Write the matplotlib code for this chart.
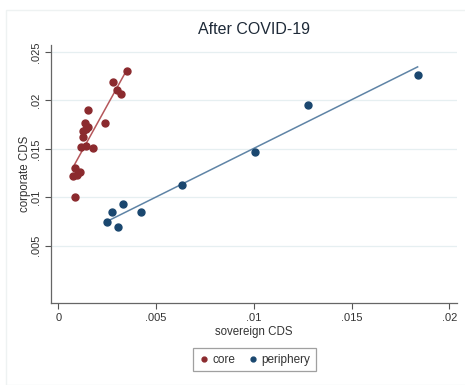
import numpy as np
import matplotlib.pyplot as plt
from matplotlib.patches import Rectangle

plt.rcParams['font.family'] = ['Liberation Sans', 'DejaVu Sans']

# core countries
core_x = [0.00353, 0.00278, 0.00302, 0.00320, 0.00152, 0.00238, 0.00136, 0.00154,
          0.00126, 0.00141, 0.00128, 0.00117, 0.00140, 0.00179, 0.00083, 0.00073,
          0.00094, 0.00111, 0.00087]
core_y = [0.0230, 0.02186, 0.02104, 0.02064, 0.01904, 0.01767, 0.0177, 0.01726,
          0.0168, 0.0170, 0.0162, 0.01522, 0.01534, 0.01512, 0.01302, 0.01223,
          0.01233, 0.01259, 0.00999]

# periphery countries
peri_x = [0.00635, 0.01008, 0.01277, 0.01838, 0.00250, 0.00276, 0.00329, 0.00305, 0.00424]
peri_y = [0.0113, 0.01469, 0.01956, 0.02262, 0.00747, 0.00845, 0.00927, 0.0069, 0.00851]

xticks = [0, 0.005, 0.01, 0.015, 0.02]
xlabels = ['0', '.005', '.01', '.015', '.02']
yticks = [0.005, 0.01, 0.015, 0.02, 0.025]
ylabels = ['.005', '.01', '.015', '.02', '.025']

red = '#8b2a2e'
navy = '#1a476f'

fig = plt.figure(figsize=(4.65, 3.85), dpi=100)
fig.patches.append(Rectangle((0.012, 0.0), 0.99, 0.975, transform=fig.transFigure,
                             fill=False, edgecolor='#eef2f2', lw=1))
ax = fig.add_axes([0.110, 0.213, 0.873, 0.670])

for yt in yticks:
    ax.axhline(yt, color='#e6eff1', lw=0.9, zorder=0)

ax.scatter(core_x, core_y, s=25, color=red, zorder=3, label='core')
ax.scatter(peri_x, peri_y, s=25, color=navy, zorder=3, label='periphery')

for xs, ys, c in [(core_x, core_y, '#b5575b'), (peri_x, peri_y, '#5f84a6')]:
    b, a = np.polyfit(xs, ys, 1)
    xx = np.array([min(xs), max(xs)])
    ax.plot(xx, a + b * xx, color=c, lw=1.1, zorder=2)

ax.set_xlim(-0.00037, 0.0204)
ax.set_ylim(-0.0009, 0.0257)
ax.set_xticks(xticks)
ax.set_xticklabels(xlabels)
ax.set_yticks(yticks)
ax.set_yticklabels(ylabels, rotation=90, va='center')

for s in ['top', 'right']:
    ax.spines[s].set_visible(False)
for s in ['left', 'bottom']:
    ax.spines[s].set_color('#666666')
    ax.spines[s].set_linewidth(0.9)
ax.tick_params(colors='#555555', labelcolor='#333333', labelsize=8, length=4, width=0.8)

ax.set_xlabel('sovereign CDS', fontsize=8.3, color='#333333', labelpad=2)
ax.set_ylabel('corporate CDS', fontsize=8.3, color='#333333', labelpad=0)
ax.set_title('After COVID-19', fontsize=11.5, color='#1e2a38', pad=8)

leg = fig.legend(loc='center', bbox_to_anchor=(0.547, 0.066), ncol=2, fontsize=8.5,
                 frameon=True, fancybox=False, edgecolor='#888888', handletextpad=0.2,
                 columnspacing=1.0, markerscale=0.7, borderpad=0.5, handlelength=1.0)
leg.get_frame().set_linewidth(0.9)
for t in leg.get_texts():
    t.set_color('#333333')

fig.savefig('out.png', dpi=100)
